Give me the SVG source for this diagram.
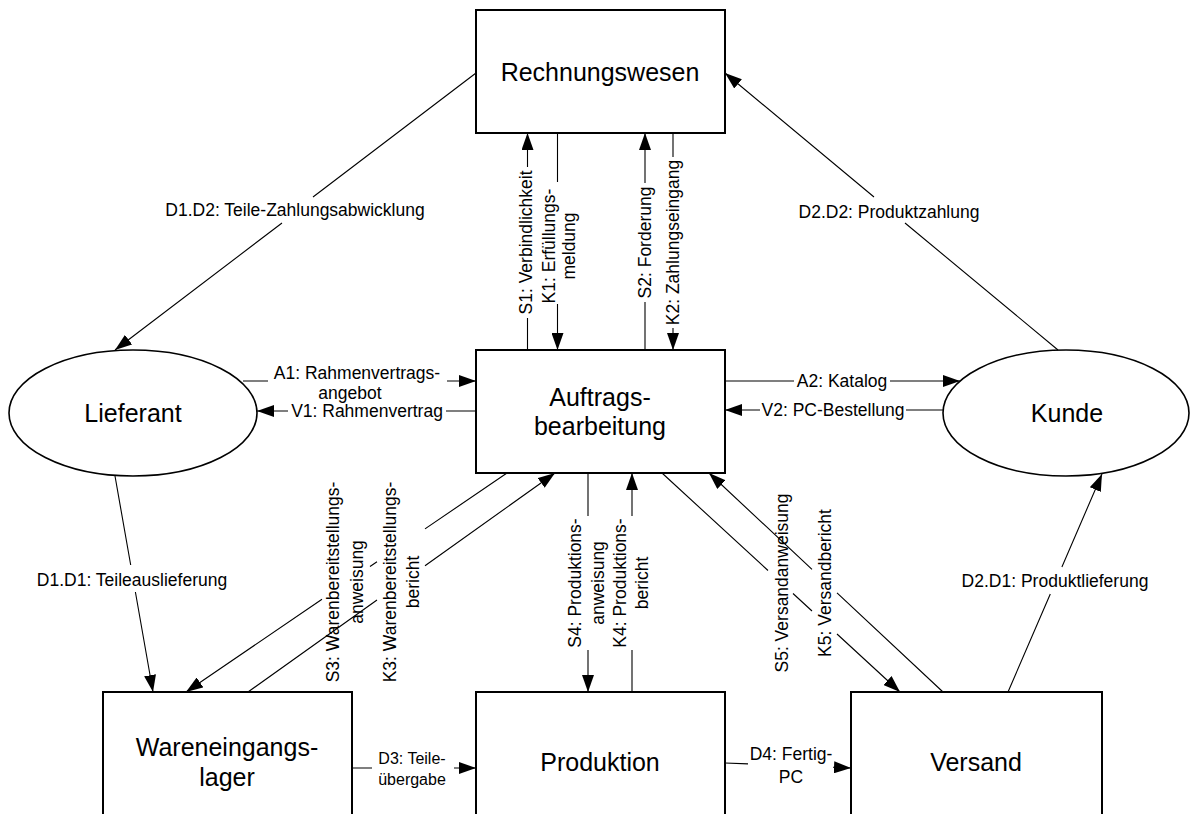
<svg xmlns="http://www.w3.org/2000/svg" width="1190" height="814" viewBox="0 0 1190 814">
  <defs>
    <style>
      .box { fill: #fff; stroke: #000; stroke-width: 2; }
      .ell { fill: #fff; stroke: #000; stroke-width: 1.6; }
      .node { font-family: "Liberation Sans", Arial, sans-serif; font-size: 25px; text-anchor: middle; fill: #000; }
      .lbl { font-family: "Liberation Sans", Arial, sans-serif; font-size: 17.5px; text-anchor: middle; fill: #000; }
      .small { font-size: 16px; }
      .con { fill: none; stroke: #000; stroke-width: 1.1; marker-end: url(#arr); }
    </style>
    <marker id="arr" markerUnits="userSpaceOnUse" markerWidth="18" markerHeight="12" refX="17" refY="6" orient="auto">
      <path d="M0,0 L17,6 L0,12 z" fill="#000"/>
    </marker>
  </defs>
  <rect width="1190" height="814" fill="#fff"/>

  <!-- nodes -->
  <g id="rechnungswesen">
    <rect class="box" x="476" y="10" width="249" height="123"/>
    <text class="node" x="600" y="81">Rechnungswesen</text>
  </g>
  <g id="auftragsbearbeitung">
    <rect class="box" x="476" y="350" width="249" height="123"/>
    <text class="node" x="600" y="406">Auftrags-</text>
    <text class="node" x="600" y="435">bearbeitung</text>
  </g>
  <g id="lieferant">
    <ellipse class="ell" cx="133" cy="413" rx="124" ry="63"/>
    <text class="node" x="133" y="422">Lieferant</text>
  </g>
  <g id="kunde">
    <ellipse class="ell" cx="1066" cy="413" rx="123" ry="63"/>
    <text class="node" x="1067" y="422">Kunde</text>
  </g>
  <g id="wareneingangslager">
    <rect class="box" x="103" y="692" width="249" height="140"/>
    <text class="node" x="227" y="756">Wareneingangs-</text>
    <text class="node" x="227" y="786">lager</text>
  </g>
  <g id="produktion">
    <rect class="box" x="476" y="692" width="249" height="140"/>
    <text class="node" x="600" y="771">Produktion</text>
  </g>
  <g id="versand">
    <rect class="box" x="851" y="692" width="251" height="140"/>
    <text class="node" x="976" y="771">Versand</text>
  </g>

  <!-- connectors: each line is broken where its own label sits -->
  <g id="connectors">
    <!-- D1.D2 Rechnungswesen -> Lieferant -->
    <path class="con" d="M476,73 L313,197 M282,223 L115,350"/>
    <text class="lbl" x="295" y="216">D1.D2: Teile-Zahlungsabwicklung</text>

    <!-- D2.D2 Kunde -> Rechnungswesen -->
    <path class="con" d="M1058,350 L905,223 M874,197 L725,73"/>
    <text class="lbl" x="889" y="218">D2.D2: Produktzahlung</text>

    <!-- S1 Auftragsbearbeitung -> Rechnungswesen -->
    <path class="con" d="M527.5,350 L527.5,318 M527.5,167 L527.5,133"/>
    <text class="lbl" transform="translate(532,242.5) rotate(-90)">S1: Verbindlichkeit</text>

    <!-- K1 Rechnungswesen -> Auftragsbearbeitung -->
    <path class="con" d="M557.5,133 L557.5,182 M557.5,304 L557.5,350"/>
    <g transform="translate(555,246) rotate(-90)">
      <text class="lbl" x="0" y="0">K1: Erfüllungs-</text>
      <text class="lbl" x="0" y="20">meldung</text>
    </g>

    <!-- S2 Auftragsbearbeitung -> Rechnungswesen -->
    <path class="con" d="M645,350 L645,302 M645,183 L645,133"/>
    <text class="lbl" transform="translate(651,242.5) rotate(-90)">S2: Forderung</text>

    <!-- K2 Rechnungswesen -> Auftragsbearbeitung -->
    <path class="con" d="M673,133 L673,157 M673,328 L673,350"/>
    <text class="lbl" transform="translate(679,242.5) rotate(-90)">K2: Zahlungseingang</text>

    <!-- A1 Lieferant -> Auftragsbearbeitung -->
    <path class="con" d="M243,381 L268,381 M447,381 L476,381"/>
    <text class="lbl" x="357" y="379">A1: Rahmenvertrags-</text>
    <text class="lbl" x="350" y="399">angebot</text>

    <!-- V1 Auftragsbearbeitung -> Lieferant -->
    <path class="con" d="M476,411 L446,411 M288,411 L257,411"/>
    <text class="lbl" x="367" y="417">V1: Rahmenvertrag</text>

    <!-- A2 Auftragsbearbeitung -> Kunde -->
    <path class="con" d="M725,381 L794,381 M890,381 L960,381"/>
    <text class="lbl" x="842" y="387">A2: Katalog</text>

    <!-- V2 Kunde -> Auftragsbearbeitung -->
    <path class="con" d="M943,410 L906,410 M760,410 L725,410"/>
    <text class="lbl" x="833" y="416">V2: PC-Bestellung</text>

    <!-- D1.D1 Lieferant -> Wareneingangslager -->
    <path class="con" d="M115,476 L130.7,565 M135.4,592 L153,692"/>
    <text class="lbl" x="132" y="586">D1.D1: Teileauslieferung</text>

    <!-- D2.D1 Versand -> Kunde -->
    <path class="con" d="M1008,692 L1050.3,594 M1061.9,567 L1102,474"/>
    <text class="lbl" x="1055" y="587">D2.D1: Produktlieferung</text>

    <!-- S3 Auftragsbearbeitung -> Wareneingangslager -->
    <path class="con" d="M507,473 L425,528.9 M377,561.7 L370,566.5 M322,599.2 L186,692"/>
    <g transform="translate(339,582) rotate(-90)">
      <text class="lbl" x="0" y="0">S3: Warenbereitstellungs-</text>
      <text class="lbl" x="0" y="24">anweisung</text>
    </g>

    <!-- K3 Wareneingangslager -> Auftragsbearbeitung -->
    <path class="con" d="M248,692 L377,600 M425,565.7 L555,473"/>
    <g transform="translate(396,582) rotate(-90)">
      <text class="lbl" x="0" y="0">K3: Warenbereitstellungs-</text>
      <text class="lbl" x="0" y="23">bericht</text>
    </g>

    <!-- S4 Auftragsbearbeitung -> Produktion -->
    <path class="con" d="M588,473 L588,516 M588,650 L588,692"/>
    <g transform="translate(581,583) rotate(-90)">
      <text class="lbl" x="0" y="0">S4: Produktions-</text>
      <text class="lbl" x="0" y="23">anweisung</text>
    </g>

    <!-- K4 Produktion -> Auftragsbearbeitung -->
    <path class="con" d="M632,692 L632,650 M632,516 L632,473"/>
    <g transform="translate(626,583) rotate(-90)">
      <text class="lbl" x="0" y="0">K4: Produktions-</text>
      <text class="lbl" x="0" y="22">bericht</text>
    </g>

    <!-- S5 Auftragsbearbeitung -> Versand -->
    <path class="con" d="M662,473 L768,570.5 M793,593.5 L812,611 M837,634 L900,692"/>
    <text class="lbl" transform="translate(788,583) rotate(-90)">S5: Versandanweisung</text>

    <!-- K5 Versand -> Auftragsbearbeitung -->
    <path class="con" d="M943,692 L837,592.8 M812,569.4 L709,473"/>
    <text class="lbl" transform="translate(831,583) rotate(-90)">K5: Versandbericht</text>

    <!-- D3 Wareneingangslager -> Produktion -->
    <path class="con" d="M352,768 L372,768 M454,768 L476,768"/>
    <text class="lbl small" x="412" y="764">D3: Teile-</text>
    <text class="lbl small" x="412" y="785">übergabe</text>

    <!-- D4 Produktion -> Versand -->
    <path class="con" d="M725,763 L748,763.9 M833,767.2 L851,768"/>
    <text class="lbl" x="791" y="760">D4: Fertig-</text>
    <text class="lbl" x="791" y="783">PC</text>
  </g>
</svg>
